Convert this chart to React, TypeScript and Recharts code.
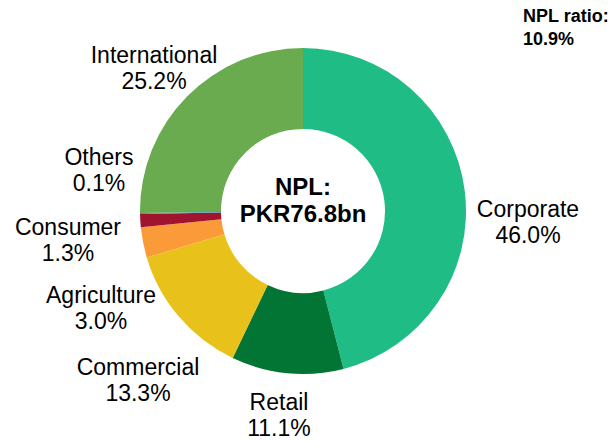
import React from "react";
import { PieChart, Pie, Cell } from "recharts";

const categories = ["Corporate", "Retail", "Commercial", "Agriculture", "Consumer", "Others", "International"];
const shares = [46.0, 11.1, 13.3, 3.0, 1.3, 0.1, 25.2];
const colors = ["#20BC86", "#027535", "#E8C11A", "#FA9A38", "#A0142F", "#3A8FD0", "#6AAB4F"];
// label anchor offsets from the pie centre (layout only)
const labelOffsets: [number, number][] = [
  [225, 6],
  [-24, 199],
  [-165, 164],
  [-202, 92],
  [-235, 24],
  [-204, -46],
  [-149, -148],
];
const centerLines = ["NPL:", "PKR76.8bn"];
const ratioLines = ["NPL ratio:", "10.9%"];

const data = categories.map((name, i) => ({ name, value: shares[i] }));

const FONT = "'Liberation Sans', Arial, Helvetica, sans-serif";

const renderLabel = (props: any) => {
  const { cx, cy, index } = props;
  const [dx, dy] = labelOffsets[index];
  const x = cx + dx;
  const y = cy + dy;
  return (
    <g key={"lbl" + index}>
      <text x={x} y={y} textAnchor="middle" fontFamily={FONT} fontSize={23} fill="#000">
        {categories[index]}
      </text>
      <text x={x} y={y + 26} textAnchor="middle" fontFamily={FONT} fontSize={23} fill="#000">
        {shares[index].toFixed(1) + "%"}
      </text>
      {index === 0 ? (
        <g>
          <text x={cx} y={cy - 16} textAnchor="middle" fontFamily={FONT} fontSize={24} fontWeight="bold" fill="#000">
            {centerLines[0]}
          </text>
          <text x={cx} y={cy + 11} textAnchor="middle" fontFamily={FONT} fontSize={24} fontWeight="bold" fill="#000">
            {centerLines[1]}
          </text>
        </g>
      ) : null}
    </g>
  );
};

export default function App() {
  return (
    <div style={{ position: "absolute", left: 0, top: 0, width: 614, height: 442, background: "#fff" }}>
      <PieChart width={614} height={442} margin={{ top: 0, right: 0, bottom: 0, left: 0 }}>
        <Pie
          data={data}
          dataKey="value"
          nameKey="name"
          cx={303}
          cy={211}
          innerRadius={82}
          outerRadius={163}
          startAngle={90}
          endAngle={-270}
          stroke="none"
          label={renderLabel}
          labelLine={false}
          isAnimationActive={false}
        >
          {data.map((d, i) => (
            <Cell key={d.name} fill={colors[i]} />
          ))}
        </Pie>
      </PieChart>
      <svg width={614} height={442} style={{ position: "absolute", left: 0, top: 0, pointerEvents: "none" }}>
        <text x={523} y={22} fontFamily={FONT} fontSize={18} fontWeight="bold" fill="#000">
          {ratioLines[0]}
        </text>
        <text x={523} y={45} fontFamily={FONT} fontSize={18} fontWeight="bold" fill="#000">
          {ratioLines[1]}
        </text>
      </svg>
    </div>
  );
}
